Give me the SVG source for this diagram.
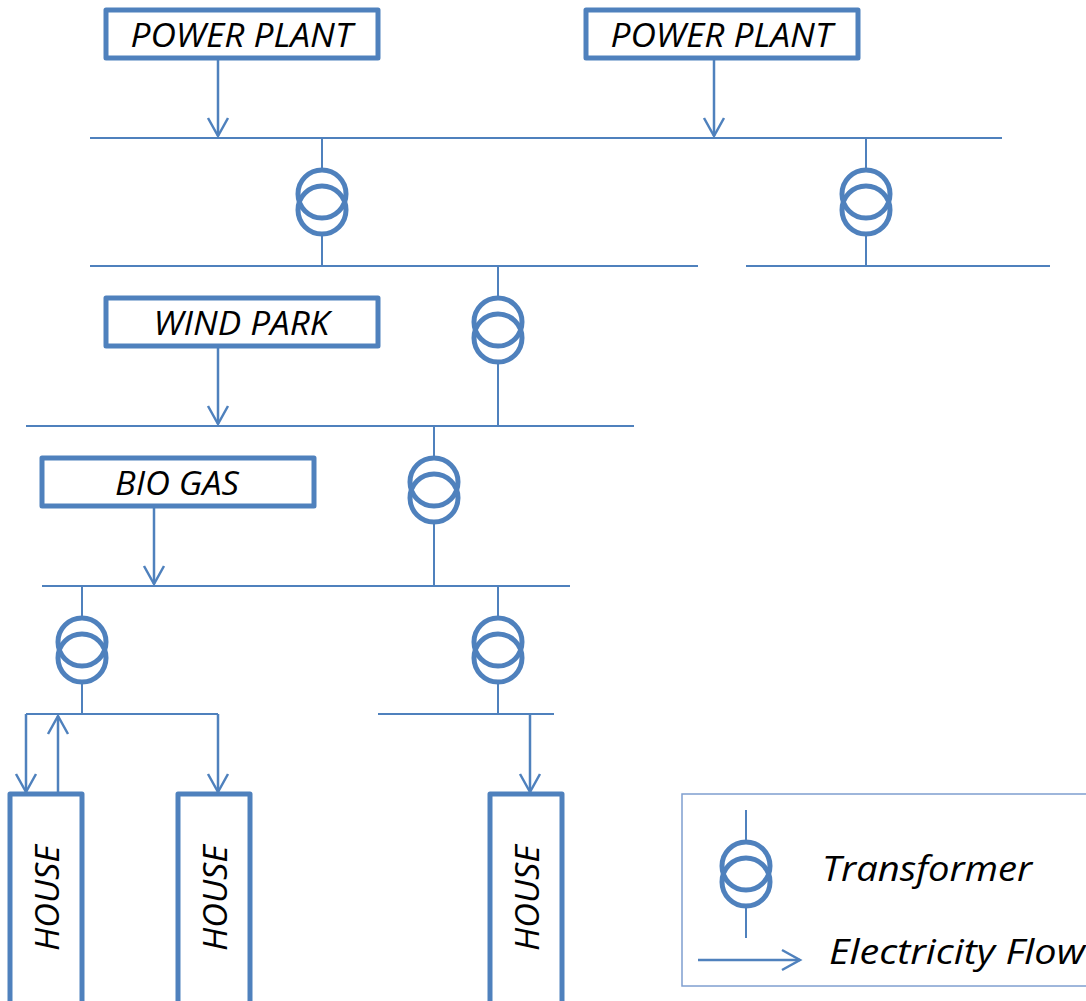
<svg xmlns="http://www.w3.org/2000/svg" width="1086" height="1001" viewBox="0 0 1086 1001">
<style>
.l{stroke:#4f81bd;stroke-width:2;fill:none}
.f{stroke:#4f81bd;stroke-width:2.5;fill:none}
.b{fill:#fff;stroke:#4f81bd;stroke-width:5;stroke-linejoin:round}
.c{fill:none;stroke:#4f81bd;stroke-width:5}
.t{font-family:"Open Sans","Noto Sans",sans-serif;font-style:italic;fill:#000;font-size:32px;text-anchor:middle}
.m{font-size:35px}
</style>
<defs>
<marker id="a" markerUnits="userSpaceOnUse" markerWidth="30" markerHeight="30" refX="24" refY="15" orient="auto" overflow="visible"><path d="M6 5 L24 15 L6 25" fill="none" stroke="#4f81bd" stroke-width="2.5"/></marker>
<g id="tr"><circle class="c" cx="0" cy="-8" r="24"/><circle class="c" cx="0" cy="8" r="24"/></g>
</defs>
<g id="connectors">
<path class="l" d="M90 138H1002M90 266H698M746 266H1050M26 426H634M42 586H570M26 714H218M378 714H554"/>
<path class="l" d="M322 138V170M322 234V266M866 138V170M866 234V266M498 266V298M498 362V426M434 426V458M434 522V586M82 586V618M82 682V714M498 586V618M498 682V714"/>
<path class="f" marker-end="url(#a)" d="M218 58V136"/>
<path class="f" marker-end="url(#a)" d="M714 58V136"/>
<path class="f" marker-end="url(#a)" d="M218 346V424"/>
<path class="f" marker-end="url(#a)" d="M154 506V584"/>
<path class="f" marker-end="url(#a)" d="M26 714V792"/>
<path class="f" marker-end="url(#a)" d="M58 794V716"/>
<path class="f" marker-end="url(#a)" d="M218 714V792"/>
<path class="f" marker-end="url(#a)" d="M530 714V792"/>
</g>
<g id="t1"><use href="#tr" x="322" y="202"/></g>
<g id="t2"><use href="#tr" x="866" y="202"/></g>
<g id="t3"><use href="#tr" x="498" y="330"/></g>
<g id="t4"><use href="#tr" x="434" y="490"/></g>
<g id="t5"><use href="#tr" x="82" y="650"/></g>
<g id="t6"><use href="#tr" x="498" y="650"/></g>
<g id="plant1"><rect class="b" x="106" y="10" width="272" height="48"/><text class="t" x="241.500" y="47" textLength="222" lengthAdjust="spacingAndGlyphs">POWER PLANT</text></g>
<g id="plant2"><rect class="b" x="586" y="10" width="272" height="48"/><text class="t" x="721.500" y="47" textLength="222" lengthAdjust="spacingAndGlyphs">POWER PLANT</text></g>
<g id="wind"><rect class="b" x="106" y="298" width="272" height="48"/><text class="t" x="241.500" y="335" textLength="176" lengthAdjust="spacingAndGlyphs">WIND PARK</text></g>
<g id="bio"><rect class="b" x="42" y="458" width="272" height="48"/><text class="t" x="177" y="495" textLength="124" lengthAdjust="spacingAndGlyphs">BIO GAS</text></g>
<g id="house1"><rect class="b" x="10" y="794" width="72" height="220"/><text class="t" transform="translate(59 898) rotate(-90)" textLength="106" lengthAdjust="spacingAndGlyphs">HOUSE</text></g>
<g id="house2"><rect class="b" x="178" y="794" width="72" height="220"/><text class="t" transform="translate(227 898) rotate(-90)" textLength="106" lengthAdjust="spacingAndGlyphs">HOUSE</text></g>
<g id="house3"><rect class="b" x="490" y="794" width="72" height="220"/><text class="t" transform="translate(539 898) rotate(-90)" textLength="106" lengthAdjust="spacingAndGlyphs">HOUSE</text></g>
<g id="legend">
<rect x="682" y="794" width="440" height="192" fill="#fff" stroke="#7f9fd0" stroke-width="1.5"/>
<path class="l" d="M746 810V842M746 906V938"/>
<use href="#tr" x="746" y="874"/>
<path class="f" marker-end="url(#a)" d="M698 960H800"/>
<text class="t m" x="927" y="881" textLength="210" lengthAdjust="spacingAndGlyphs">Transformer</text>
<text class="t m" x="957" y="964" textLength="256" lengthAdjust="spacingAndGlyphs">Electricity Flow</text>
</g>
</svg>
